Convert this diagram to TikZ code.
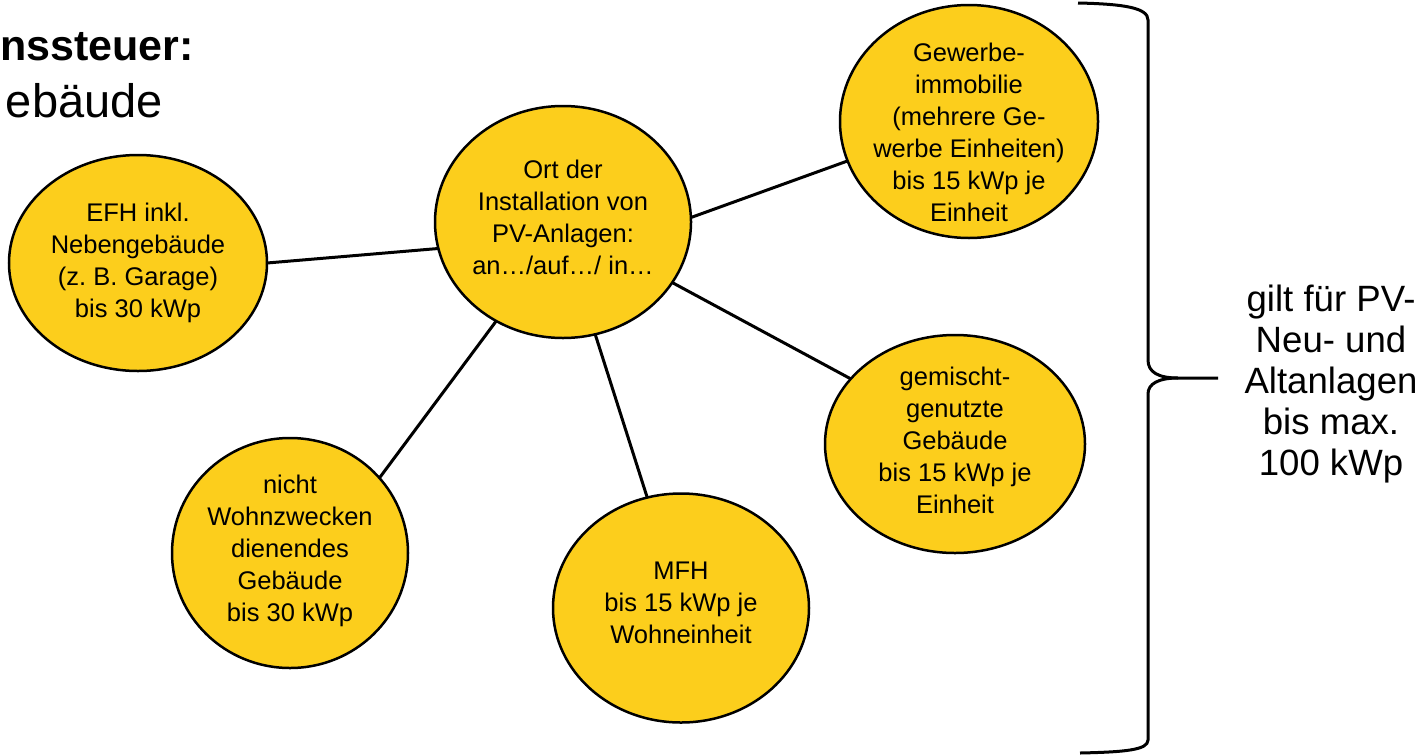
\documentclass[tikz,border=0pt]{standalone}
\usepackage{fontspec}
\setmainfont{Liberation Sans}
\usetikzlibrary{shapes.geometric}
\frenchspacing
\definecolor{bubfill}{RGB}{252,206,28}
\tikzset{
  bub/.style={ellipse, draw=black, line width=2.5pt, fill=bubfill, inner sep=0pt, outer sep=0pt},
  btxt/.style={align=center, inner sep=0pt, font=\fontsize{25.5}{32}\selectfont},
  conn/.style={draw=black, line width=3pt},
  braceline/.style={draw=black, line width=3pt},
}
\begin{document}
\begin{tikzpicture}[x=1pt,y=-1pt]
\useasboundingbox (0,0) rectangle (1423,755);
\clip (0,0) rectangle (1423,755);

% heading (cut at the left edge in the reference)
\node[anchor=base east, inner sep=0pt, font=\fontsize{43}{50}\selectfont\bfseries] (h1) at (194,60) {nssteuer:};
\node[anchor=base east, inner sep=0pt, font=\fontsize{47}{54}\selectfont] (h2) at (163,117) {ebäude};

% bubbles
\node[bub, minimum width=256pt, minimum height=232pt] (ort) at (563,222) {};
\node[btxt] (ortt) at (563,217) {Ort der\\Installation von\\PV-Anlagen:\\an…/auf…/ in…};

\node[bub, minimum width=258pt, minimum height=216pt] (efh) at (138,263) {};
\node[btxt] (efht) at (138,263) {EFH inkl.\\Nebengebäude\\(z. B. Garage)\\bis 30 kWp};

\node[bub, minimum width=258pt, minimum height=233pt] (gew) at (969,121.5) {};
\node[btxt] (gewt) at (969,132) {Gewerbe-\\immobilie\\(mehrere Ge-\\werbe Einheiten)\\bis 15 kWp je\\Einheit};

\node[bub, minimum width=260pt, minimum height=218pt] (gem) at (955,444) {};
\node[btxt] (gemt) at (955,440) {gemischt-\\genutzte\\Gebäude\\bis 15 kWp je\\Einheit};

\node[bub, minimum width=236pt, minimum height=230pt] (nicht) at (290,553) {};
\node[btxt] (nichtt) at (290,551) {nicht\\Wohnzwecken\\dienendes\\Gebäude\\bis 30 kWp};

\node[bub, minimum width=256pt, minimum height=229pt] (mfh) at (681,608) {};
\node[btxt] (mfht) at (681,603) {MFH\\bis 15 kWp je\\Wohneinheit};

% connectors
\draw[conn] (efh.east) -- (ort.192);
\draw[conn] (ort.2) -- (gew.198);
\draw[conn] (ort.331) -- (gem.148);
\draw[conn] (ort.236) -- (nicht.40);
\draw[conn] (ort.286) -- (mfh.107);

% brace
\coordinate (btip) at (1218,378);
\coordinate (bmid) at (1178,378);
\draw[braceline] (1078,3) .. controls (1125,4) and (1148,8) .. (1148,20) -- (1148,360)
  .. controls (1148,372) and (1158,378) .. (bmid) -- (btip);
\draw[braceline] (bmid) .. controls (1158,378) and (1148,384) .. (1148,394) -- (1148,740)
  .. controls (1148,750) and (1125,752) .. (1080,753);

\node[align=center, inner sep=0pt, font=\fontsize{36.6}{41}\selectfont] (note) at (1331,384)
  {gilt für PV-\\Neu- und\\Altanlagen\\bis max.\\100 kWp};
\end{tikzpicture}
\end{document}
